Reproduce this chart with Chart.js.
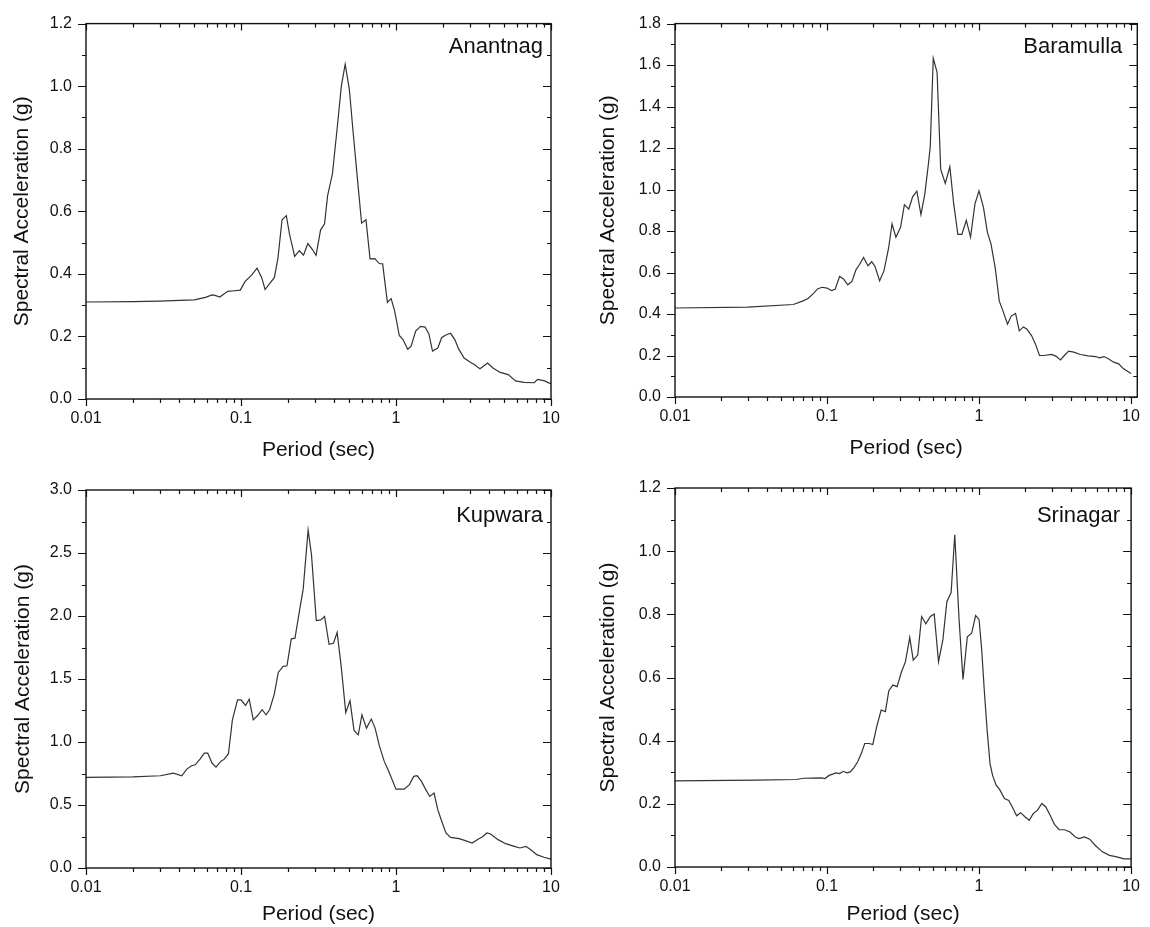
<!DOCTYPE html>
<html>
<head>
<meta charset="utf-8">
<script src="https://cdn.jsdelivr.net/npm/chart.js@4"></script>
<style>
  html, body { margin: 0; padding: 0; background: #fff; }
  body { width: 1150px; height: 927px; position: relative; overflow: hidden; }
  .panel { position: absolute; }
</style>
</head>
<body>
<div class="panel" style="left:0;top:0;width:575px;height:463px"><canvas id="c1" width="575" height="463"></canvas></div>
<div class="panel" style="left:575px;top:0;width:575px;height:463px"><canvas id="c2" width="575" height="463"></canvas></div>
<div class="panel" style="left:0;top:463px;width:575px;height:464px"><canvas id="c3" width="575" height="464"></canvas></div>
<div class="panel" style="left:575px;top:463px;width:575px;height:464px"><canvas id="c4" width="575" height="464"></canvas></div>
<script>
const periodTicks = [0.01, 0.1, 1, 10];

const anantnagT = [0.01, 0.02, 0.03, 0.04, 0.05, 0.059, 0.065, 0.068, 0.073, 0.082, 0.091, 0.099, 0.106, 0.117, 0.127, 0.136, 0.143, 0.153, 0.164, 0.173, 0.184, 0.196, 0.206, 0.222, 0.238, 0.253, 0.27, 0.29, 0.305, 0.326, 0.346, 0.362, 0.389, 0.417, 0.444, 0.47, 0.5, 0.53, 0.57, 0.6, 0.64, 0.68, 0.73, 0.78, 0.82, 0.88, 0.93, 0.98, 1.05, 1.11, 1.19, 1.25, 1.34, 1.44, 1.54, 1.63, 1.72, 1.86, 1.97, 2.08, 2.25, 2.4, 2.53, 2.75, 3.0, 3.2, 3.48, 3.7, 3.9, 4.2, 4.7, 5.3, 5.9, 6.7, 7.8, 8.2, 9.1, 10];
const anantnagSa = [0.31, 0.311, 0.313, 0.315, 0.317, 0.325, 0.333, 0.331, 0.326, 0.344, 0.346, 0.348, 0.375, 0.396, 0.418, 0.388, 0.35, 0.369, 0.388, 0.449, 0.573, 0.586, 0.525, 0.456, 0.474, 0.46, 0.497, 0.477, 0.459, 0.54, 0.56, 0.65, 0.72, 0.864, 1.0, 1.07, 0.99, 0.848, 0.679, 0.562, 0.573, 0.448, 0.449, 0.433, 0.432, 0.309, 0.321, 0.282, 0.203, 0.19, 0.159, 0.168, 0.217, 0.232, 0.23, 0.208, 0.153, 0.163, 0.196, 0.204, 0.21, 0.189, 0.161, 0.131, 0.118, 0.11, 0.097, 0.106, 0.115, 0.1, 0.085, 0.078, 0.058, 0.053, 0.052, 0.063, 0.058, 0.048];
const anantnagYTicks = [0, 0.2, 0.4, 0.6, 0.8, 1.0, 1.2];

const baramullaT = [0.01, 0.03, 0.06, 0.069, 0.075, 0.081, 0.087, 0.093, 0.1, 0.107, 0.113, 0.121, 0.128, 0.137, 0.146, 0.155, 0.164, 0.174, 0.186, 0.197, 0.207, 0.222, 0.237, 0.254, 0.268, 0.284, 0.305, 0.323, 0.345, 0.366, 0.39, 0.415, 0.44, 0.465, 0.478, 0.5, 0.53, 0.56, 0.6, 0.643, 0.68, 0.726, 0.771, 0.825, 0.88, 0.94, 1.0, 1.07, 1.135, 1.2, 1.28, 1.36, 1.44, 1.54, 1.63, 1.74, 1.84, 1.96, 2.07, 2.22, 2.35, 2.5, 2.68, 3.0, 3.2, 3.44, 3.64, 3.89, 4.2, 4.65, 5.23, 5.87, 6.2, 6.65, 7.1, 7.7, 8.3, 8.9, 10];
const baramullaSa = [0.429, 0.433, 0.446, 0.462, 0.475, 0.497, 0.522, 0.529, 0.525, 0.513, 0.519, 0.581, 0.57, 0.541, 0.557, 0.613, 0.64, 0.673, 0.633, 0.652, 0.629, 0.56, 0.608, 0.716, 0.835, 0.77, 0.819, 0.927, 0.906, 0.965, 0.992, 0.879, 0.978, 1.125, 1.208, 1.633, 1.565, 1.097, 1.03, 1.11, 0.938, 0.784, 0.784, 0.851, 0.771, 0.93, 0.994, 0.914, 0.795, 0.737, 0.62, 0.462, 0.414, 0.351, 0.39, 0.403, 0.319, 0.338, 0.327, 0.295, 0.256, 0.2, 0.2, 0.205, 0.197, 0.179, 0.2, 0.221, 0.216, 0.205, 0.198, 0.195, 0.189, 0.195, 0.184, 0.168, 0.16, 0.137, 0.113];
const baramullaYTicks = [0, 0.2, 0.4, 0.6, 0.8, 1.0, 1.2, 1.4, 1.6, 1.8];

const kupwaraT = [0.01, 0.02, 0.0302, 0.0366, 0.0415, 0.0447, 0.048, 0.0506, 0.0544, 0.058, 0.061, 0.065, 0.069, 0.074, 0.078, 0.083, 0.088, 0.095, 0.1, 0.107, 0.113, 0.12, 0.128, 0.137, 0.145, 0.153, 0.164, 0.174, 0.187, 0.198, 0.211, 0.223, 0.236, 0.252, 0.271, 0.285, 0.306, 0.327, 0.346, 0.37, 0.395, 0.417, 0.443, 0.474, 0.505, 0.536, 0.571, 0.603, 0.645, 0.693, 0.733, 0.783, 0.84, 0.897, 1.0, 1.13, 1.22, 1.3, 1.37, 1.46, 1.55, 1.65, 1.76, 1.86, 1.99, 2.1, 2.25, 2.55, 2.77, 3.1, 3.4, 3.6, 3.86, 4.08, 4.55, 5.1, 5.8, 6.3, 6.9, 7.4, 8.1, 9.0, 10];
const kupwaraSa = [0.719, 0.724, 0.732, 0.753, 0.732, 0.785, 0.812, 0.819, 0.864, 0.912, 0.912, 0.833, 0.8, 0.846, 0.864, 0.907, 1.176, 1.335, 1.335, 1.29, 1.34, 1.176, 1.21, 1.256, 1.216, 1.256, 1.38, 1.552, 1.6, 1.605, 1.819, 1.824, 2.009, 2.215, 2.683, 2.485, 1.964, 1.969, 1.996, 1.776, 1.784, 1.869, 1.6, 1.234, 1.327, 1.092, 1.057, 1.216, 1.11, 1.182, 1.11, 0.965, 0.846, 0.767, 0.626, 0.626, 0.661, 0.727, 0.732, 0.687, 0.626, 0.568, 0.595, 0.463, 0.357, 0.278, 0.243, 0.233, 0.219, 0.198, 0.23, 0.246, 0.278, 0.27, 0.225, 0.193, 0.172, 0.159, 0.172, 0.145, 0.106, 0.085, 0.071];
const kupwaraYTicks = [0, 0.5, 1.0, 1.5, 2.0, 2.5, 3.0];

const srinagarT = [0.01, 0.0345, 0.063, 0.07, 0.092, 0.097, 0.103, 0.109, 0.114, 0.121, 0.128, 0.135, 0.142, 0.15, 0.159, 0.168, 0.177, 0.189, 0.2, 0.212, 0.227, 0.242, 0.255, 0.271, 0.289, 0.309, 0.328, 0.35, 0.369, 0.395, 0.419, 0.447, 0.478, 0.507, 0.541, 0.578, 0.614, 0.655, 0.692, 0.739, 0.784, 0.837, 0.894, 0.949, 1.0, 1.041, 1.082, 1.13, 1.18, 1.226, 1.295, 1.367, 1.468, 1.567, 1.655, 1.766, 1.876, 2.003, 2.138, 2.27, 2.424, 2.588, 2.748, 2.934, 3.132, 3.363, 3.65, 3.961, 4.3, 4.54, 4.925, 5.34, 5.8, 6.47, 7.21, 8.05, 8.97, 10];
const srinagarSa = [0.273, 0.275, 0.277, 0.281, 0.282, 0.28, 0.29, 0.294, 0.298, 0.296, 0.303, 0.298, 0.301, 0.314, 0.333, 0.359, 0.391, 0.391, 0.388, 0.444, 0.497, 0.492, 0.558, 0.576, 0.571, 0.618, 0.65, 0.727, 0.655, 0.671, 0.793, 0.77, 0.793, 0.801, 0.65, 0.719, 0.84, 0.869, 1.052, 0.782, 0.594, 0.729, 0.74, 0.796, 0.784, 0.687, 0.56, 0.433, 0.328, 0.291, 0.259, 0.245, 0.217, 0.211, 0.19, 0.162, 0.172, 0.159, 0.148, 0.169, 0.18, 0.201, 0.19, 0.164, 0.135, 0.118, 0.118, 0.111, 0.095, 0.09, 0.095, 0.088, 0.069, 0.048, 0.037, 0.032, 0.026, 0.026];
const srinagarYTicks = [0, 0.2, 0.4, 0.6, 0.8, 1.0, 1.2];

const FONT = "'Liberation Sans', Arial, sans-serif";
const INK = "#111";

const panelFrame = {
  id: "panelFrame",
  afterDraw(chart) {
    const { ctx, chartArea: a, scales } = chart;
    const x = scales.x, y = scales.y;
    const p = chart.options.plugins.panelFrame;
    ctx.save();
    ctx.strokeStyle = INK;
    ctx.lineWidth = 1.4;
    ctx.strokeRect(a.left, a.top, a.right - a.left, a.bottom - a.top);
    ctx.lineWidth = 1.2;
    ctx.beginPath();
    // log x ticks: bottom outward, top inward
    for (let e = -2; e <= 1; e++) {
      for (let m = 1; m <= 9; m++) {
        const v = m * Math.pow(10, e);
        if (v < x.min * 0.999 || v > x.max * 1.001) continue;
        const px = Math.round(x.getPixelForValue(v)) + 0.5;
        const len = m === 1 ? 7 : 4;
        ctx.moveTo(px, a.bottom); ctx.lineTo(px, a.bottom + len);
        ctx.moveTo(px, a.top); ctx.lineTo(px, a.top + len);
      }
    }
    // linear y ticks: left outward, right inward, minor halfway
    const yt = p.yTicks;
    const half = (yt[1] - yt[0]) / 2;
    for (let i = 0; i < yt.length; i++) {
      for (let k = 0; k < 2; k++) {
        const v = yt[i] + k * half;
        if (v > y.max + 1e-9) continue;
        const py = Math.round(y.getPixelForValue(v)) + 0.5;
        const len = k === 0 ? 8 : 4;
        ctx.moveTo(a.left - len, py); ctx.lineTo(a.left, py);
        ctx.moveTo(a.right - len, py); ctx.lineTo(a.right, py);
      }
    }
    ctx.stroke();
    ctx.fillStyle = INK;
    ctx.font = "22px " + FONT;
    ctx.textAlign = "right";
    ctx.textBaseline = "middle";
    ctx.fillText(p.name, a.right - p.nameDx, a.top + p.nameDy);
    ctx.restore();
  },
};

function makePanel(id, T, Sa, cfg) {
  const pts = T.map((t, i) => ({ x: t, y: Sa[i] }));
  return new Chart(document.getElementById(id), {
    type: "line",
    data: {
      datasets: [{
        data: pts,
        borderColor: "#333",
        borderWidth: 1.2,
        pointRadius: 0,
        tension: 0,
        fill: false,
      }],
    },
    plugins: [panelFrame],
    options: {
      responsive: false,
      animation: false,
      layout: { padding: { left: 0, top: cfg.padTop, right: cfg.padRight, bottom: 0 } },
      plugins: {
        legend: { display: false },
        tooltip: { enabled: false },
        panelFrame: { name: cfg.name, yTicks: cfg.yTicks, nameDx: cfg.nameDx, nameDy: cfg.nameDy },
      },
      scales: {
        x: {
          type: "logarithmic",
          min: 0.01,
          max: cfg.xMax,
          grid: { display: false, drawTicks: false },
          border: { display: false },
          afterBuildTicks: (s) => { s.ticks = periodTicks.map((v) => ({ value: v })); },
          afterFit: (s) => { s.height = cfg.xH; },
          ticks: {
            padding: 10,
            autoSkip: false,
            maxRotation: 0,
            color: INK,
            font: { family: FONT, size: 16 },
            callback: (v) => String(v),
          },
          title: {
            display: true,
            text: "Period (sec)",
            color: INK,
            font: { family: FONT, size: 21 },
            padding: { top: 0, bottom: cfg.xTitlePad },
          },
        },
        y: {
          min: 0,
          max: cfg.yTicks[cfg.yTicks.length - 1],
          grid: { display: false, drawTicks: false },
          border: { display: false },
          afterBuildTicks: (s) => { s.ticks = cfg.yTicks.map((v) => ({ value: v })); },
          afterFit: (s) => { s.width = cfg.yW; },
          ticks: {
            padding: 14,
            color: INK,
            font: { family: FONT, size: 16 },
            callback: (v) => Number(v).toFixed(1),
          },
          title: {
            display: true,
            text: "Spectral Acceleration (g)",
            color: INK,
            font: { family: FONT, size: 21 },
            padding: { top: cfg.yTitlePad, bottom: 0 },
          },
        },
      },
    },
  });
}

makePanel("c1", anantnagT, anantnagSa, {
  name: "Anantnag", yTicks: anantnagYTicks, xMax: 10,
  padTop: 20, padRight: 24, yW: 86, xH: 64, xTitlePad: 0, yTitlePad: 10, nameDx: 8, nameDy: 23,
});
makePanel("c2", baramullaT, baramullaSa, {
  name: "Baramulla", yTicks: baramullaYTicks, xMax: 11,
  padTop: 19, padRight: 8, yW: 100, xH: 66, xTitlePad: 2, yTitlePad: 21, nameDx: 15, nameDy: 23,
});
makePanel("c3", kupwaraT, kupwaraSa, {
  name: "Kupwara", yTicks: kupwaraYTicks, xMax: 10,
  padTop: 27, padRight: 24, yW: 86, xH: 59, xTitlePad: 0, yTitlePad: 11, nameDx: 8, nameDy: 26,
});
makePanel("c4", srinagarT, srinagarSa, {
  name: "Srinagar", yTicks: srinagarYTicks, xMax: 10,
  padTop: 25, padRight: 10, yW: 100, xH: 60, xTitlePad: 0, yTitlePad: 21, nameDx: 11, nameDy: 28,
});
</script>
</body>
</html>
